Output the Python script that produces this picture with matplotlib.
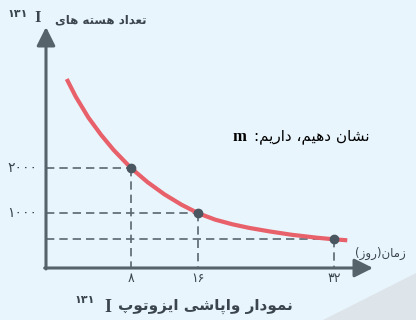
import matplotlib
matplotlib.use("Agg")
import matplotlib.pyplot as plt
from matplotlib.patches import Polygon

# نقاط خوانده شده از منحنی (روز ، تعداد هسته ها)
curve_t = [0.44, 1.5, 3, 4.5, 6, 8, 10, 12, 14, 16, 18, 20, 22, 24.5, 27, 30, 32, 33.6]
curve_n = [3945, 3560, 3100, 2720, 2385, 2000, 1682, 1414, 1189, 1000,
           860, 760, 680, 600, 530, 465, 430, 408]

# نقاط مشخص شده
mark_t = [8, 16, 32]
mark_n = [2000, 1000, 430]
xtick_labels = ["۸", "۱۶", "۳۲"]
ytick_vals = [2000, 1000]
ytick_labels = ["۲۰۰۰", "۱۰۰۰"]

# شکل دهی ساده حروف فارسی (بدون کتابخانه)
FORMS = {
    "ا": ("\uFE8D", "\uFE8E", None, None),
    "د": ("\uFEA9", "\uFEAA", None, None),
    "ر": ("\uFEAD", "\uFEAE", None, None),
    "ز": ("\uFEAF", "\uFEB0", None, None),
    "و": ("\uFEED", "\uFEEE", None, None),
    "ت": ("\uFE95", "\uFE96", "\uFE97", "\uFE98"),
    "ع": ("\uFEC9", "\uFECA", "\uFECB", "\uFECC"),
    "ه": ("\uFEE9", "\uFEEA", "\uFEEB", "\uFEEC"),
    "س": ("\uFEB1", "\uFEB2", "\uFEB3", "\uFEB4"),
    "ش": ("\uFEB5", "\uFEB6", "\uFEB7", "\uFEB8"),
    "م": ("\uFEE1", "\uFEE2", "\uFEE3", "\uFEE4"),
    "ن": ("\uFEE5", "\uFEE6", "\uFEE7", "\uFEE8"),
    "پ": ("\uFB56", "\uFB57", "\uFB58", "\uFB59"),
    "ی": ("\uFBFC", "\uFBFD", "\uFBFE", "\uFBFF"),
}


def fa(s):
    out = []
    for i, c in enumerate(s):
        if c not in FORMS:
            out.append(c)
            continue
        f = FORMS[c]
        prev = s[i - 1] if i > 0 else ""
        nxt = s[i + 1] if i + 1 < len(s) else ""
        jp = prev in FORMS and FORMS[prev][2] is not None
        jn = f[2] is not None and nxt in FORMS
        if jp and jn:
            out.append(f[3])
        elif jp:
            out.append(f[1])
        elif jn:
            out.append(f[2])
        else:
            out.append(f[0])
    vis = "".join(out)[::-1]
    return vis.translate(str.maketrans("()", ")("))


W, H = 416, 320
bg = "#e9f5fd"
axis_c = "#56636b"
dash_c = "#5a6670"
text_c = "#3a454d"

fig = plt.figure(figsize=(W / 100, H / 100), dpi=100)
fig.patch.set_facecolor(bg)


def px(x, y):
    return x / W, 1 - y / H


# سایه خاکستری پایین راست
fig.patches.append(Polygon([px(323, 320), px(416, 273), px(416, 320)], closed=True,
                           transform=fig.transFigure, facecolor="#dde5eb", edgecolor="none", zorder=0))

l, r, top, bot = 46, 373, 27, 268
ax = fig.add_axes([l / W, 1 - bot / H, (r - l) / W, (bot - top) / H])
ax.set_facecolor("none")
ax.set_xlim((l - 63) / 8.46, (r - 63) / 8.46)
ax.set_ylim((258.9 - bot) / 0.0456, (258.9 - top) / 0.0456)
for s in ax.spines.values():
    s.set_visible(False)
ax.set_xticks([])
ax.set_yticks([])
x0, y0 = ax.get_xlim()[0], ax.get_ylim()[0]

# خطوط نقطه چین
for t, n in zip(mark_t, mark_n):
    ax.plot([x0, t], [n, n], color=dash_c, lw=1.2, dashes=(5, 3), zorder=2)
    ax.plot([t, t], [n, y0], color=dash_c, lw=1.2, dashes=(5, 3), zorder=2)

ax.plot(curve_t, curve_n, color="#e8606a", lw=3, solid_capstyle="butt",
        solid_joinstyle="round", zorder=3)
ax.plot(mark_t, mark_n, "o", color="#4a5660", ms=6, zorder=4)

# محورها با فلش
ap = dict(arrowstyle="-|>,head_length=0.7,head_width=0.35", lw=2.2, color=axis_c,
          shrinkA=0, shrinkB=0, mutation_scale=16)
ax.annotate("", xy=(1, 0), xytext=(-0.004, 0), xycoords="axes fraction", arrowprops=ap,
            annotation_clip=False, zorder=5)
ax.annotate("", xy=(0, 1), xytext=(0, -0.004), xycoords="axes fraction", arrowprops=ap,
            annotation_clip=False, zorder=5)

# برچسب های محور x
for t, lab in zip(mark_t, xtick_labels):
    ax.text(t, y0 - 220, lab, color=text_c, fontsize=9, ha="center", va="center")
# برچسب های محور y
for n, lab in zip(ytick_vals, ytick_labels):
    ax.text(x0 - 1.0, n, lab, color=text_c, fontsize=10, ha="right", va="center")

# عنوان محور y
fig.text(*px(55, 20), fa("تعداد هسته های"), color=text_c, fontsize=8.5, fontweight="bold",
         ha="left", va="center")
fig.text(*px(41, 18), "I", family="Liberation Serif", fontweight="bold", fontsize=12,
         color=text_c, ha="right", va="center")
fig.text(*px(28, 14), "۱۳۱", fontsize=8, fontweight="bold", color=text_c, ha="right", va="center")

# عنوان محور x
fig.text(*px(355, 253), fa("زمان(روز)"), color=text_c, fontsize=8.5, ha="left", va="center")

# متن میانی
fig.text(*px(254, 137), fa("نشان دهیم، داریم:"), color="black", fontsize=11,
         ha="left", va="center")
fig.text(*px(246, 137), "m", family="Liberation Serif", fontweight="bold", fontsize=12,
         color="black", ha="right", va="center")

# زیرنویس نمودار
fig.text(*px(118, 306), fa("نمودار واپاشی ایزوتوپ"), color=text_c, fontsize=11,
         fontweight="bold", ha="left", va="center")
fig.text(*px(111, 307), "I", family="Liberation Serif", fontweight="bold", fontsize=13,
         color=text_c, ha="right", va="center")
fig.text(*px(95, 300), "۱۳۱", fontsize=8, fontweight="bold", color=text_c,
         ha="right", va="center")

fig.savefig("out.png", dpi=100, facecolor=bg)
